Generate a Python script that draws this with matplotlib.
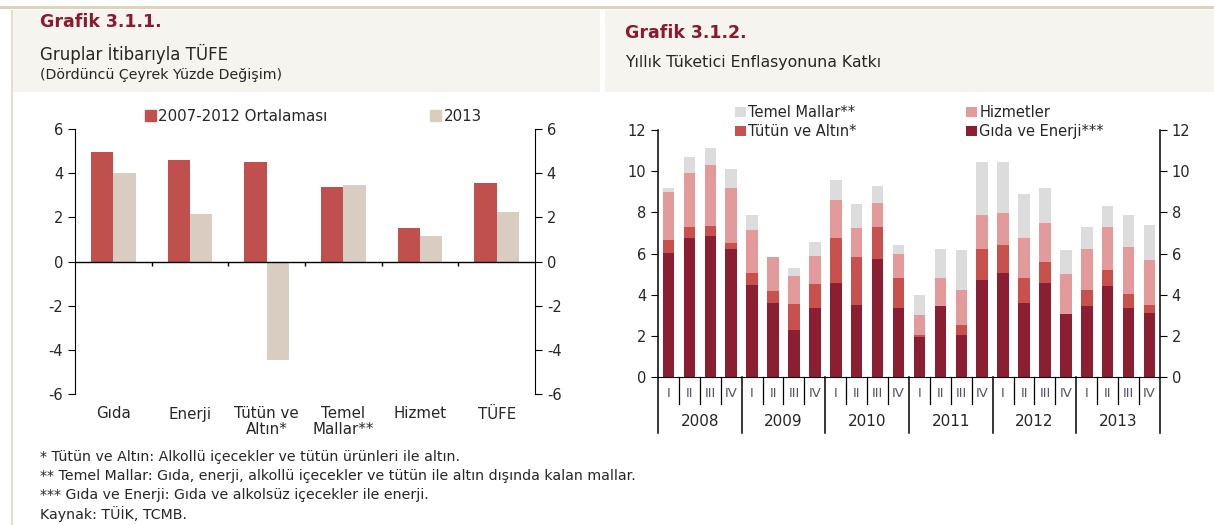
import matplotlib
matplotlib.use("Agg")
import matplotlib.pyplot as plt
from matplotlib.patches import Rectangle, Patch
from matplotlib.transforms import blended_transform_factory
import numpy as np

plt.rcParams['font.family'] = ['DejaVu Sans']
plt.rcParams['axes.unicode_minus'] = False

# Grafik 3.1.1 data
groups = ["Gıda", "Enerji", "Tütün ve\nAltın*", "Temel\nMallar**", "Hizmet", "TÜFE"]
avg_2007_2012 = [4.97, 4.59, 4.52, 3.38, 1.50, 3.56]
val_2013 = [4.03, 2.17, -4.46, 3.46, 1.16, 2.25]

# Grafik 3.1.2 data (quarterly contributions)
years = ["2008", "2009", "2010", "2011", "2012", "2013"]
quarters = ["I", "II", "III", "IV"]
gida_enerji = [6.02, 6.74, 6.87, 6.21, 4.45, 3.59, 2.26, 3.35, 4.59, 3.51, 5.74, 3.35,
               1.94, 3.46, 2.02, 4.72, 5.05, 3.59, 4.59, 3.07, 3.46, 4.43, 3.35, 3.11]
tutun_altin = [0.64, 0.57, 0.47, 0.29, 0.60, 0.61, 1.28, 1.18, 2.15, 2.31, 1.57, 1.45,
               0.08, 0.00, 0.52, 1.49, 1.34, 1.21, 0.99, 0.00, 0.78, 0.75, 0.68, 0.40]
hizmetler = [2.34, 2.59, 2.96, 2.67, 2.10, 1.65, 1.38, 1.36, 1.86, 1.41, 1.13, 1.17,
             0.97, 1.34, 1.70, 1.67, 1.60, 1.94, 1.92, 1.94, 1.97, 2.13, 2.31, 2.15]
temel_mallar = [0.17, 0.77, 0.84, 0.92, 0.73, 0.00, 0.37, 0.66, 0.97, 1.16, 0.84, 0.45,
                0.97, 1.41, 1.91, 2.58, 2.47, 2.14, 1.70, 1.17, 1.10, 1.00, 1.54, 1.73]

W, H = 1214, 525
fig = plt.figure(figsize=(W / 100, H / 100), dpi=100)


def box(x, y, w, h):
    # pixel box (top-left origin) -> figure fraction rect
    return [x / W, 1 - (y + h) / H, w / W, h / H]


def fig_xy(x, y):
    return x / W, 1 - y / H


# header panels and borders
for x, w in [(12, 588), (605, 609)]:
    r = box(x, 10, w, 82)
    fig.patches.append(Rectangle((r[0], r[1]), r[2], r[3], transform=fig.transFigure,
                                 facecolor="#f6f4ee", edgecolor="none", zorder=0))
r = box(0, 6, W, 3)
fig.patches.append(Rectangle((r[0], r[1]), r[2], r[3], transform=fig.transFigure,
                             facecolor="#ddd3bb", edgecolor="none", zorder=0))
r = box(11, 10, 2, 515)
fig.patches.append(Rectangle((r[0], r[1]), r[2], r[3], transform=fig.transFigure,
                             facecolor="#e2ddd2", edgecolor="none", zorder=0))

title_col = "#8b1a2e"
txt_col = "#262626"
fig.text(*fig_xy(40, 22), "Grafik 3.1.1.", color=title_col, fontsize=12.5,
         fontweight="bold", va="center")
fig.text(*fig_xy(40, 54), "Gruplar İtibarıyla TÜFE", color=txt_col, fontsize=12, va="center")
fig.text(*fig_xy(40, 75), "(Dördüncü Çeyrek Yüzde Değişim)", color=txt_col, fontsize=10.2, va="center")
fig.text(*fig_xy(625, 33), "Grafik 3.1.2.", color=title_col, fontsize=12.5,
         fontweight="bold", va="center")
fig.text(*fig_xy(625, 63), "Yıllık Tüketici Enflasyonuna Katkı", color=txt_col, fontsize=11.3, va="center")

notes = ["* Tütün ve Altın: Alkollü içecekler ve tütün ürünleri ile altın.",
         "** Temel Mallar: Gıda, enerji, alkollü içecekler ve tütün ile altın dışında kalan mallar.",
         "*** Gıda ve Enerji: Gıda ve alkolsüz içecekler ile enerji.",
         "Kaynak: TÜİK, TCMB."]
for i, n in enumerate(notes):
    fig.text(*fig_xy(40, 457 + i * 19), n, color=txt_col, fontsize=10.2, va="center")

# ---------- Grafik 3.1.1 ----------
ax1 = fig.add_axes(box(75, 129, 460, 265))
x = np.arange(len(groups))
bw = 0.29
ax1.bar(x - bw / 2, avg_2007_2012, bw, color="#c0504d", label="2007-2012 Ortalaması")
ax1.bar(x + bw / 2, val_2013, bw, color="#d9cdc1", label="2013")
ax1.set_xlim(-0.5, len(groups) - 0.5)
ax1.set_ylim(-6, 6)
ax1.set_yticks(range(-6, 7, 2))
ax1.axhline(0, color="black", lw=1)
ax1.vlines(np.arange(0.5, len(groups) - 1, 1), 0, -0.2, color="black", lw=1)
for s in ["top", "bottom"]:
    ax1.spines[s].set_visible(False)
ax1.set_xticks(x)
ax1.set_xticklabels(groups, linespacing=1.0, va="top")
ax1.tick_params(axis="x", length=0, pad=9, labelsize=10.8, colors=txt_col)
ax1.yaxis.set_ticks_position("both")
ax1.tick_params(axis="y", direction="out", length=5, labelright=True, labelsize=10.5,
                colors="black", labelcolor=txt_col)

leg_kw = dict(frameon=False, handlelength=0.75, handleheight=0.75, handletextpad=0.15,
              fontsize=10.8, labelcolor=txt_col, borderpad=0, borderaxespad=0,
              loc="center left", bbox_transform=fig.transFigure)
h1 = Patch(color="#c0504d", label="2007-2012 Ortalaması")
h2 = Patch(color="#d9cdc1", label="2013")
lg = ax1.legend(handles=[h1], bbox_to_anchor=fig_xy(145, 116), **leg_kw)
ax1.add_artist(lg)
ax1.legend(handles=[h2], bbox_to_anchor=fig_xy(430, 116), **leg_kw)

# ---------- Grafik 3.1.2 ----------
ax2 = fig.add_axes(box(658, 130, 502, 247))
n = len(gida_enerji)
xs = np.arange(n)
bw2 = 0.55
ge = np.array(gida_enerji)
ta = np.array(tutun_altin)
hz = np.array(hizmetler)
tm = np.array(temel_mallar)
b1 = ax2.bar(xs, ge, bw2, color="#8c1e32", label="Gıda ve Enerji***")
b2 = ax2.bar(xs, ta, bw2, bottom=ge, color="#c8504d", label="Tütün ve Altın*")
b3 = ax2.bar(xs, hz, bw2, bottom=ge + ta, color="#e39a9a", label="Hizmetler")
b4 = ax2.bar(xs, tm, bw2, bottom=ge + ta + hz, color="#dcdcdc", label="Temel Mallar**")
ax2.set_xlim(-0.5, n - 0.5)
ax2.set_ylim(0, 12)
ax2.set_yticks(range(0, 13, 2))
ax2.spines["top"].set_visible(False)
ax2.set_xticks([])
ax2.yaxis.set_ticks_position("both")
ax2.tick_params(axis="y", direction="out", length=5, labelright=True, labelsize=10.5,
                labelcolor=txt_col)
for s in ["left", "right"]:
    ax2.spines[s].set_visible(False)

trans = blended_transform_factory(ax2.transData, ax2.transAxes)
for i in range(n + 1):
    b = i - 0.5
    low = -0.227 if i % 4 == 0 else -0.11
    top = 1.0 if i in (0, n) else 0.0
    ax2.plot([b, b], [low, top], transform=trans, color="black", lw=1.1 if i % 4 == 0 else 0.9,
             clip_on=False)
for i in range(n):
    ax2.text(i, -0.065, quarters[i % 4], transform=trans, ha="center", va="center",
             fontsize=9.5, color="#555566")
for j, yr in enumerate(years):
    ax2.text(j * 4 + 1.5, -0.182, yr, transform=trans, ha="center", va="center",
             fontsize=11, color=txt_col)

leg_kw2 = dict(leg_kw, fontsize=10.5, labelspacing=0.28)
lg2 = ax2.legend(handles=[b4, b2], bbox_to_anchor=fig_xy(735, 122), **leg_kw2)
ax2.add_artist(lg2)
ax2.legend(handles=[b3, b1], bbox_to_anchor=fig_xy(966, 122), **leg_kw2)

fig.savefig("out.png", dpi=100)
